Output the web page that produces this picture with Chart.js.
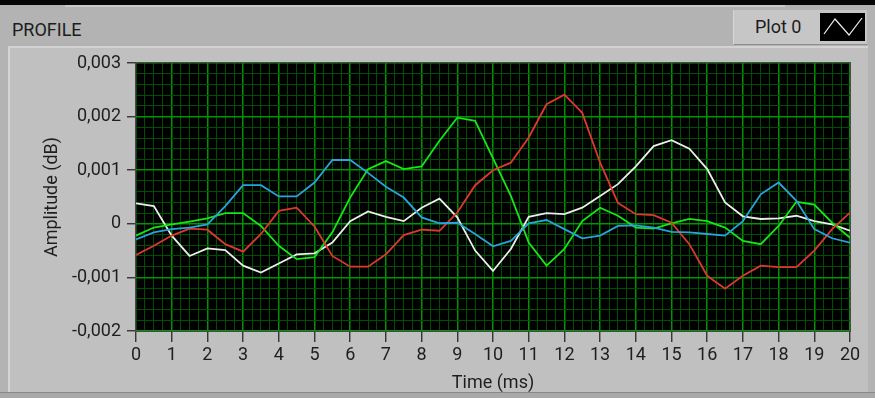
<!DOCTYPE html>
<html>
<head>
<meta charset="utf-8">
<script src="https://cdn.jsdelivr.net/npm/chart.js@4.4.1/dist/chart.umd.min.js"></script>
<style>
  html, body { margin: 0; padding: 0; width: 875px; height: 398px; overflow: hidden; background: #b3b3b3; font-family: Roboto, "Open Sans", sans-serif; }
  #topbar { position: absolute; left: 0; top: 0; width: 875px; height: 5px; background: #070707; }
  #topline { position: absolute; left: 65px; top: 5px; width: 720px; height: 2px; background: #c9c9c9; }
  #caption { position: absolute; left: 12px; top: 20px; font-size: 18px; line-height: 20px; color: #1c1c1c; }
  #legend { position: absolute; left: 733px; top: 10px; width: 134px; height: 35px; background: #c6c6c6; border-left: 1px solid #d6d6d6; border-bottom: 1px solid #8e8e8e; box-sizing: border-box; }
  #legend span { position: absolute; left: 21px; top: 7px; font-size: 18px; line-height: 20px; color: #1c1c1c; }
  #swatch { position: absolute; left: 86px; top: 3px; width: 45px; height: 28px; background: #000; }
  #panel { position: absolute; left: 8px; top: 46px; width: 860px; height: 346px; background: #c0c0c0; border-left: 2px solid #d3d3d3; border-top: 2px solid #d3d3d3; box-sizing: border-box; }
  #bottom { position: absolute; left: 0; top: 392px; width: 875px; height: 6px; background: #a9a9a9; border-top: 1px solid #8a8a8a; box-sizing: border-box; }
  #chart { position: absolute; left: 0; top: 0; }
</style>
</head>
<body>
<div id="topbar"></div>
<div id="topline"></div>
<div id="panel"></div>
<div id="bottom"></div>
<div id="caption">PROFILE</div>
<div id="legend"><span>Plot 0</span>
  <svg id="swatch" width="45" height="28" viewBox="0 0 45 28"><polyline points="4,21 15,6 29,22 42,5" fill="none" stroke="#f2f2f2" stroke-width="1.2"/></svg>
</div>
<canvas id="chart" width="875" height="398"></canvas>
<script>
// Sample times (ms)
const times = [0, 0.5, 1, 1.5, 2, 2.5, 3, 3.5, 4, 4.5, 5, 5.5, 6, 6.5, 7, 7.5, 8, 8.5, 9, 9.5, 10,
               10.5, 11, 11.5, 12, 12.5, 13, 13.5, 14, 14.5, 15, 15.5, 16, 16.5, 17, 17.5, 18, 18.5, 19, 19.5, 20];

// Amplitude traces (dB)
const traceWhite = [0.00038, 0.00033, -0.00022, -0.00060, -0.00046, -0.00049, -0.00078, -0.00091, -0.00074, -0.00057, -0.00055,
                    -0.00035, 0.00005, 0.00023, 0.00013, 0.00005, 0.00030, 0.00047, 0.00012, -0.00050, -0.00088,
                    -0.00047, 0.00013, 0.00020, 0.00018, 0.00030, 0.00052, 0.00074, 0.00107, 0.00145, 0.00156,
                    0.00140, 0.00102, 0.00040, 0.00014, 0.00009, 0.00010, 0.00015, 0.00005, -0.00001, -0.00013];
const traceBlue  = [-0.00029, -0.00016, -0.00010, -0.00007, -0.00001, 0.00033, 0.00072, 0.00072, 0.00051, 0.00051, 0.00077,
                    0.00119, 0.00119, 0.00095, 0.00069, 0.00049, 0.00012, 0.00001, 0.00002, -0.00019, -0.00042,
                    -0.00032, 0.00001, 0.00007, -0.00010, -0.00027, -0.00022, -0.00004, -0.00003, -0.00007, -0.00015,
                    -0.00016, -0.00019, -0.00022, 0.00005, 0.00055, 0.00077, 0.00043, -0.00010, -0.00027, -0.00035];
const traceGreen = [-0.00022, -0.00007, -0.00001, 0.00004, 0.00010, 0.00020, 0.00020, -0.00004, -0.00041, -0.00066, -0.00062,
                    -0.00016, 0.00049, 0.00102, 0.00117, 0.00102, 0.00107, 0.00155, 0.00198, 0.00192, 0.00122,
                    0.00052, -0.00035, -0.00078, -0.00047, 0.00005, 0.00030, 0.00015, -0.00007, -0.00009, 0.00001,
                    0.00009, 0.00005, -0.00007, -0.00032, -0.00038, -0.00004, 0.00041, 0.00036, 0.00002, -0.00026];
const traceRed   = [-0.00058, -0.00041, -0.00022, -0.00009, -0.00011, -0.00038, -0.00052, -0.00019, 0.00024, 0.00030, -0.00005,
                    -0.00060, -0.00080, -0.00080, -0.00057, -0.00021, -0.00011, -0.00013, 0.00021, 0.00072, 0.00100,
                    0.00114, 0.00161, 0.00223, 0.00241, 0.00207, 0.00114, 0.00039, 0.00018, 0.00016, 0.00002,
                    -0.00038, -0.00097, -0.00121, -0.00097, -0.00078, -0.00081, -0.00081, -0.00050, -0.00010, 0.00021];

// Labelled axis positions
const xMajorValues = [0, 1, 2, 3, 4, 5, 6, 7, 8, 9, 10, 11, 12, 13, 14, 15, 16, 17, 18, 19, 20];
const xTickLabels  = ['0', '1', '2', '3', '4', '5', '6', '7', '8', '9', '10', '11', '12', '13', '14', '15', '16', '17', '18', '19', '20'];
const yMajorValues = [-0.002, -0.001, 0, 0.001, 0.002, 0.003];
const yTickLabels  = ['-0,002', '-0,001', '0', '0,001', '0,002', '0,003'];

const majorIndex = (list, v, eps) => list.findIndex(m => Math.abs(m - v) < eps);
const xMajor = v => majorIndex(xMajorValues, v, 1e-6) >= 0;
const yMajor = v => majorIndex(yMajorValues, v, 1e-9) >= 0;

const GRID_MAJOR = '#009400';
const GRID_MINOR = '#004e00';
const TEXT = '#1e1e1e';
const FONT = { family: 'Roboto, "Open Sans", sans-serif', size: 18 };

const series = (vals) => times.map((t, i) => ({ x: t, y: vals[i] }));

// Black plotting area and its frame
const plotBackground = {
  id: 'plotBackground',
  beforeDraw(chart) {
    const { ctx, chartArea: a } = chart;
    ctx.save();
    ctx.fillStyle = '#000';
    ctx.fillRect(a.left, a.top, a.right - a.left, a.bottom - a.top);
    ctx.restore();
  },
  afterDraw(chart) {
    const { ctx, chartArea: a } = chart;
    ctx.save();
    ctx.strokeStyle = '#4a4a4a';
    ctx.lineWidth = 1;
    ctx.strokeRect(a.left - 0.5, a.top - 0.5, a.right - a.left + 1, a.bottom - a.top + 1);
    ctx.restore();
  }
};

new Chart(document.getElementById('chart'), {
  type: 'line',
  data: {
    datasets: [
      { data: series(traceBlue),  borderColor: '#2aa3dc' },
      { data: series(traceRed),   borderColor: '#e0382e' },
      { data: series(traceGreen), borderColor: '#18e418' },
      { data: series(traceWhite), borderColor: '#ededed' }
    ]
  },
  options: {
    responsive: false,
    animation: false,
    devicePixelRatio: 1,
    layout: { padding: { left: 42, right: 25, top: 63, bottom: 4 } },
    plugins: { legend: { display: false }, tooltip: { enabled: false } },
    elements: {
      point: { radius: 0 },
      line: { tension: 0, borderWidth: 1.8, fill: false }
    },
    scales: {
      x: {
        type: 'linear', min: 0, max: 20,
        border: { display: false },
        grid: {
          color: c => xMajor(c.tick.value) ? GRID_MAJOR : GRID_MINOR,
          lineWidth: c => xMajor(c.tick.value) ? 1.5 : 1,
          tickColor: c => xMajor(c.tick.value) ? '#2a2a2a' : 'rgba(0,0,0,0)',
          tickLength: 11,
          tickWidth: 1.3
        },
        ticks: {
          stepSize: 0.25, autoSkip: false, maxRotation: 0, minRotation: 0,
          padding: 3, color: TEXT, font: FONT,
          callback: v => { const i = majorIndex(xMajorValues, v, 1e-6); return i >= 0 ? xTickLabels[i] : ''; }
        },
        title: { display: true, text: 'Time (ms)', color: TEXT, font: FONT, padding: 0 },
        afterFit: s => { s.height = 63; }
      },
      y: {
        type: 'linear', min: -0.002, max: 0.003,
        border: { display: false },
        grid: {
          color: c => yMajor(c.tick.value) ? GRID_MAJOR : GRID_MINOR,
          lineWidth: c => yMajor(c.tick.value) ? 1.5 : 1,
          tickColor: c => yMajor(c.tick.value) ? '#2a2a2a' : 'rgba(0,0,0,0)',
          tickLength: 9,
          tickWidth: 1.3
        },
        ticks: {
          stepSize: 0.0002, autoSkip: false,
          padding: 6, color: TEXT, font: FONT,
          callback: v => { const i = majorIndex(yMajorValues, v, 1e-9); return i >= 0 ? yTickLabels[i] : ''; }
        },
        title: { display: true, text: 'Amplitude (dB)', color: TEXT, font: FONT, padding: 0 },
        afterFit: s => { s.width = 94; }
      }
    }
  },
  plugins: [plotBackground]
});
</script>
</body>
</html>
